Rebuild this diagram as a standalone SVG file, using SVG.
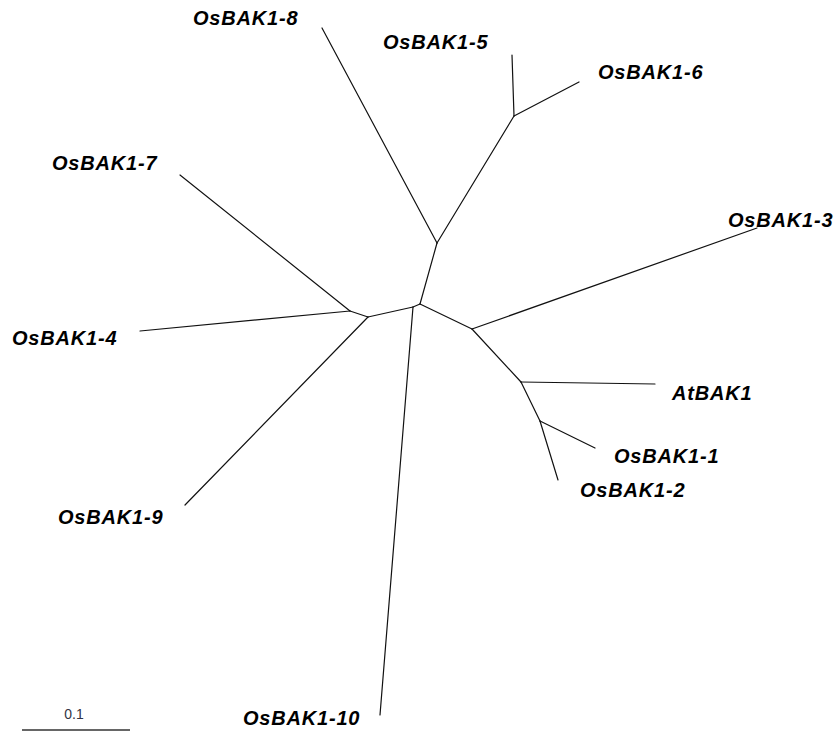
<svg xmlns="http://www.w3.org/2000/svg" width="835" height="731" viewBox="0 0 835 731">
<style>
.lbl{font-family:"Liberation Sans",Arial,sans-serif;font-weight:bold;font-style:italic;font-size:20px;letter-spacing:0.8px;fill:#000}
.br{stroke:#111;stroke-width:1.2;fill:none;stroke-linecap:round}
.sc{font-family:"Liberation Sans",Arial,sans-serif;font-size:14px;fill:#333344}
</style>
<rect width="835" height="731" fill="#fff"/>
<g id="connectors">
<line class="br" x1="420" y1="304" x2="437" y2="243"/>
<line class="br" x1="437" y1="243" x2="322" y2="28"/>
<line class="br" x1="437" y1="243" x2="514" y2="116"/>
<line class="br" x1="514" y1="116" x2="512" y2="55"/>
<line class="br" x1="514" y1="116" x2="579" y2="82"/>
<line class="br" x1="420" y1="304" x2="413" y2="307"/>
<line class="br" x1="413" y1="307" x2="380" y2="715"/>
<line class="br" x1="413" y1="307" x2="368" y2="317"/>
<line class="br" x1="368" y1="317" x2="350" y2="311"/>
<line class="br" x1="350" y1="311" x2="180" y2="175"/>
<line class="br" x1="350" y1="311" x2="140" y2="331"/>
<line class="br" x1="368" y1="317" x2="185" y2="505"/>
<line class="br" x1="420" y1="304" x2="472" y2="329"/>
<line class="br" x1="472" y1="329" x2="757" y2="228"/>
<line class="br" x1="472" y1="329" x2="521" y2="382"/>
<line class="br" x1="521" y1="382" x2="655" y2="384"/>
<line class="br" x1="521" y1="382" x2="540" y2="421"/>
<line class="br" x1="540" y1="421" x2="595" y2="448"/>
<line class="br" x1="540" y1="421" x2="558" y2="480"/>
</g>
<g id="OsBAK1-8"><text class="lbl" x="193" y="25">OsBAK1-8</text></g>
<g id="OsBAK1-5"><text class="lbl" x="383" y="49">OsBAK1-5</text></g>
<g id="OsBAK1-6"><text class="lbl" x="598" y="79">OsBAK1-6</text></g>
<g id="OsBAK1-7"><text class="lbl" x="52" y="170">OsBAK1-7</text></g>
<g id="OsBAK1-3"><text class="lbl" x="728" y="227">OsBAK1-3</text></g>
<g id="OsBAK1-4"><text class="lbl" x="12" y="345">OsBAK1-4</text></g>
<g id="AtBAK1"><text class="lbl" x="672" y="400">AtBAK1</text></g>
<g id="OsBAK1-1"><text class="lbl" x="614" y="463">OsBAK1-1</text></g>
<g id="OsBAK1-2"><text class="lbl" x="580" y="497">OsBAK1-2</text></g>
<g id="OsBAK1-9"><text class="lbl" x="58" y="524">OsBAK1-9</text></g>
<g id="OsBAK1-10"><text class="lbl" x="243" y="725">OsBAK1-10</text></g>
<g id="scale">
<line x1="22" y1="730" x2="130" y2="730" stroke="#333" stroke-width="1.5"/>
<text class="sc" x="74" y="719" text-anchor="middle">0.1</text>
</g>
</svg>
